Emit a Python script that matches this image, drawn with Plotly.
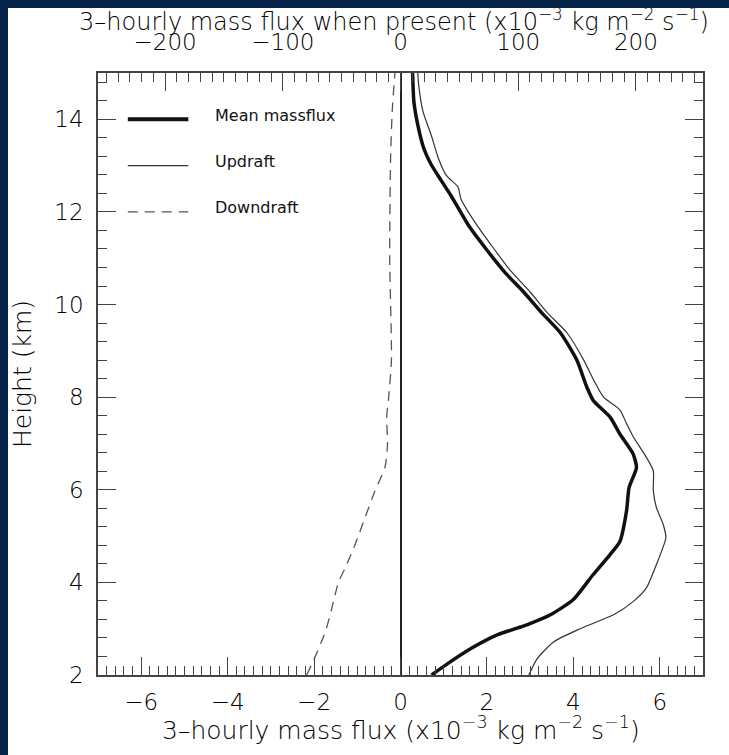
import plotly.graph_objects as go

# ---- data ----
mean_z = [2.0, 2.25, 2.57, 2.87, 3.09, 3.30, 3.63, 4.17, 4.60, 4.89, 5.54, 6.05, 6.48, 6.78,
          7.20, 7.57, 7.93, 8.22, 8.80, 9.39, 9.82, 10.26, 10.69, 11.20, 11.70, 12.35,
          12.68, 13.04, 13.37, 13.88, 14.38, 15.0]
mean_x = [0.72, 1.10, 1.63, 2.25, 2.94, 3.47, 4.00, 4.46, 4.85, 5.08, 5.23, 5.29, 5.46, 5.38,
          5.08, 4.85, 4.46, 4.31, 4.08, 3.70, 3.27, 2.86, 2.42, 1.98, 1.58, 1.17,
          0.94, 0.70, 0.54, 0.40, 0.31, 0.28]

up_z = [2.0, 2.35, 2.72, 3.0, 3.30, 3.59, 3.88, 4.31, 4.67, 4.96, 5.25, 5.62, 5.98, 6.41,
        6.70, 7.14, 7.43, 7.72, 8.00, 8.37, 8.80, 9.38, 9.82, 10.26, 10.76, 11.27, 11.78,
        12.28, 12.54, 12.79, 13.15, 13.66, 14.17, 14.75, 15.0]
up_x = [2.97, 3.16, 3.55, 4.16, 4.93, 5.39, 5.69, 5.89, 6.04, 6.14, 6.08, 5.92, 5.85, 5.85,
        5.69, 5.39, 5.23, 5.08, 4.70, 4.47, 4.24, 3.86, 3.40, 3.01, 2.52, 2.11, 1.72,
        1.40, 1.33, 1.06, 0.88, 0.71, 0.52, 0.42, 0.40]

down_z = [2.0, 2.32, 2.93, 3.44, 4.02, 4.31, 4.82, 5.40, 5.98, 6.48, 6.99, 7.57, 7.93,
          8.80, 10.98, 13.15, 14.2, 15.0]
down_x = [-2.17, -2.01, -1.74, -1.59, -1.43, -1.28, -1.05, -0.82, -0.59, -0.36, -0.30, -0.32,
          -0.28, -0.21, -0.25, -0.23, -0.19, -0.13]

series_names = ["Mean massflux", "Updraft", "Downdraft"]
legend_heights = [14.0, 13.0, 12.0]

FONT = "DejaVu Sans"
INK = "#000000"
AX = "#444444"

fig = go.Figure()
fig.add_trace(go.Scatter(x=mean_x, y=mean_z, mode="lines", name=series_names[0],
                         line=dict(color="#111111", width=3.5, shape="spline", smoothing=0.6),
                         showlegend=False))
fig.add_trace(go.Scatter(x=up_x, y=up_z, mode="lines", name=series_names[1],
                         line=dict(color="#333333", width=1.2, shape="spline", smoothing=0.6),
                         showlegend=False))
fig.add_trace(go.Scatter(x=down_x, y=down_z, mode="lines", name=series_names[2],
                         line=dict(color="#555555", width=1.3, dash="10px,7px",
                                   shape="spline", smoothing=0.6),
                         showlegend=False))
# empty trace so the top ("when present") axis is drawn
fig.add_trace(go.Scatter(x=[None], y=[None], xaxis="x2", yaxis="y", mode="lines",
                         showlegend=False, hoverinfo="skip"))

# legend drawn inside the plot
styles = [dict(color="#111111", width=4), dict(color="#333333", width=1.2),
          dict(color="#555555", width=1.3, dash="10px,7px")]
for name, h, st in zip(series_names, legend_heights, styles):
    fig.add_shape(type="line", xref="x", yref="y", x0=-6.31, x1=-4.91, y0=h, y1=h, line=st)
    fig.add_annotation(xref="x", yref="y", x=-4.33, y=h + 0.09, text=name, showarrow=False,
                       xanchor="left", yanchor="middle",
                       font=dict(family=FONT, size=16, color="#111111"))

# figure sits at an 8px page offset (top/left); that page border is painted navy
W, H = 721, 747
L, R, T, B = 87, 26, 65, 80
ph = H - T - B

tickfont = dict(family=FONT, size=23, color=INK, weight=300)
titlefont = dict(family=FONT, size=25, color=INK, weight=300)
toptitlefont = dict(family=FONT, size=24, color=INK, weight=300)

top_title = "3\u2013hourly mass flux when present (x10<sup>\u22123</sup> kg m<sup>\u22122</sup> s<sup>\u22121</sup>)"
bottom_title = "3\u2013hourly mass flux (x10<sup>\u22123</sup> kg m<sup>\u22122</sup> s<sup>\u22121</sup>)"

fig.add_annotation(xref="paper", yref="paper", x=0.489, y=(H - B - 11.5) / ph, text=top_title,
                   showarrow=False, xanchor="center", yanchor="middle", font=toptitlefont)
fig.add_annotation(xref="paper", yref="paper", x=0.5, y=(H - B - 720) / ph, text=bottom_title,
                   showarrow=False, xanchor="center", yanchor="middle", font=titlefont)

fig.update_layout(
    width=W, height=H,
    margin=dict(l=L, r=R, t=T, b=B),
    paper_bgcolor="white", plot_bgcolor="white",
    showlegend=False,
    xaxis=dict(range=[-7, 7], tick0=0, dtick=2, ticks="inside", ticklen=18, tickwidth=1.2,
               tickcolor=AX, showline=True, linecolor=AX, linewidth=1.5, showgrid=False,
               zeroline=True, zerolinecolor="#222222", zerolinewidth=1.5,
               tickfont=tickfont, ticklabelstandoff=6,
               minor=dict(dtick=0.2, tick0=0, ticks="inside", ticklen=9, tickwidth=1.2,
                          tickcolor=AX, showgrid=False)),
    xaxis2=dict(range=[-257, 257], overlaying="x", side="top", tick0=0, dtick=100,
                ticks="inside", ticklen=18, tickwidth=1.2, tickcolor=AX,
                showline=True, linecolor=AX, linewidth=1.5, showgrid=False, zeroline=False,
                tickfont=tickfont, ticklabelstandoff=12,
                minor=dict(dtick=10, tick0=0, ticks="inside", ticklen=9, tickwidth=1.2,
                           tickcolor=AX, showgrid=False)),
    yaxis=dict(range=[2, 15], tick0=2, dtick=2, ticks="inside", ticklen=18, tickwidth=1.2,
               tickcolor=AX, showline=True, linecolor=AX, linewidth=1.5, mirror="ticks",
               showgrid=False, zeroline=False, tickfont=tickfont, ticklabelstandoff=8,
               minor=dict(dtick=0.4, tick0=2, ticks="inside", ticklen=9, tickwidth=1.2,
                          tickcolor=AX, showgrid=False),
               title=dict(text="Height (km)", font=titlefont, standoff=17)),
)

fig.write_html("out.html",
               post_script="document.body.style.margin='8px 0 0 8px';"
                           "document.body.style.background='#062449';")
